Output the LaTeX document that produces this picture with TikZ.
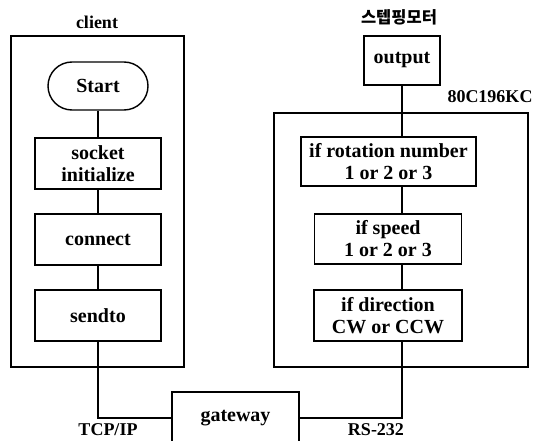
\documentclass[tikz,border=0pt]{standalone}
\usepackage{fontspec}
\setmainfont{Liberation Serif}
\newfontfamily\krfont{Noto Sans CJK KR}
\usetikzlibrary{shapes.misc}
\begin{document}
\begin{tikzpicture}[x=1pt,y=-1pt,
  every node/.style={font=\bfseries\fontsize{20}{23}\selectfont, align=center, inner sep=0pt},
  box/.style={draw, line width=1.4pt, rectangle},
  frame/.style={draw, line width=1.4pt, rectangle},
  lbl/.style={font=\bfseries\fontsize{18}{20}\selectfont},
  conn/.style={line width=1.4pt}]
\useasboundingbox (0,0) rectangle (542,441);
\clip (0,0) rectangle (542,441);
% client side
\node[frame, minimum width=173pt, minimum height=331pt] (clientbox) at (97.5,201.5) {};
\node[lbl] (clientlbl) at (97,22) {client};
\node[draw, line width=1.4pt, rounded rectangle, minimum width=100pt, minimum height=48pt] (start) at (98,86) {Start};
\node[box, minimum width=126pt, minimum height=51pt] (socket) at (98,163.5) {socket\\[-1pt]initialize};
\node[box, minimum width=126pt, minimum height=51pt] (connect) at (98,239.5) {connect};
\node[box, minimum width=126pt, minimum height=51pt] (sendto) at (98,315.5) {sendto};
% motor side
\node[font=\krfont\bfseries\fontsize{16.5}{18}\selectfont] (motorlbl) at (399,17) {스텝핑모터};
\node[box, minimum width=76pt, minimum height=49pt] (output) at (402,60.5) {output};
\node[frame, minimum width=254pt, minimum height=254pt] (mcubox) at (401,240) {};
\node[lbl] (mculbl) at (490,97) {80C196KC};
\node[box, minimum width=175pt, minimum height=49pt] (rotation) at (388.5,161.5) {if rotation number\\[-1pt]1 or 2 or 3};
\node[box, minimum width=147pt, minimum height=50pt] (speed) at (388,239) {if speed\\[-1pt]1 or 2 or 3};
\node[box, minimum width=148pt, minimum height=51pt] (direction) at (388,315.5) {if direction\\[-1pt]CW or CCW};
% gateway
\node[box, minimum width=127pt, minimum height=52pt] (gateway) at (235.5,418) {gateway};
\node[lbl] (tcplbl) at (108,430) {TCP/IP};
\node[lbl] (rslbl) at (376,430) {RS-232};
% connectors
\draw[conn] (start.south) -- (socket.north);
\draw[conn] (socket.south) -- (connect.north);
\draw[conn] (connect.south) -- (sendto.north);
\draw[conn] (sendto.south) |- (gateway.west);
\draw[conn] (output.south) -- (output.south |- rotation.north);
\draw[conn] (output.south |- rotation.south) -- (output.south |- speed.north);
\draw[conn] (output.south |- speed.south) -- (output.south |- direction.north);
\draw[conn] (output.south |- direction.south) |- (gateway.east);
\end{tikzpicture}
\end{document}
